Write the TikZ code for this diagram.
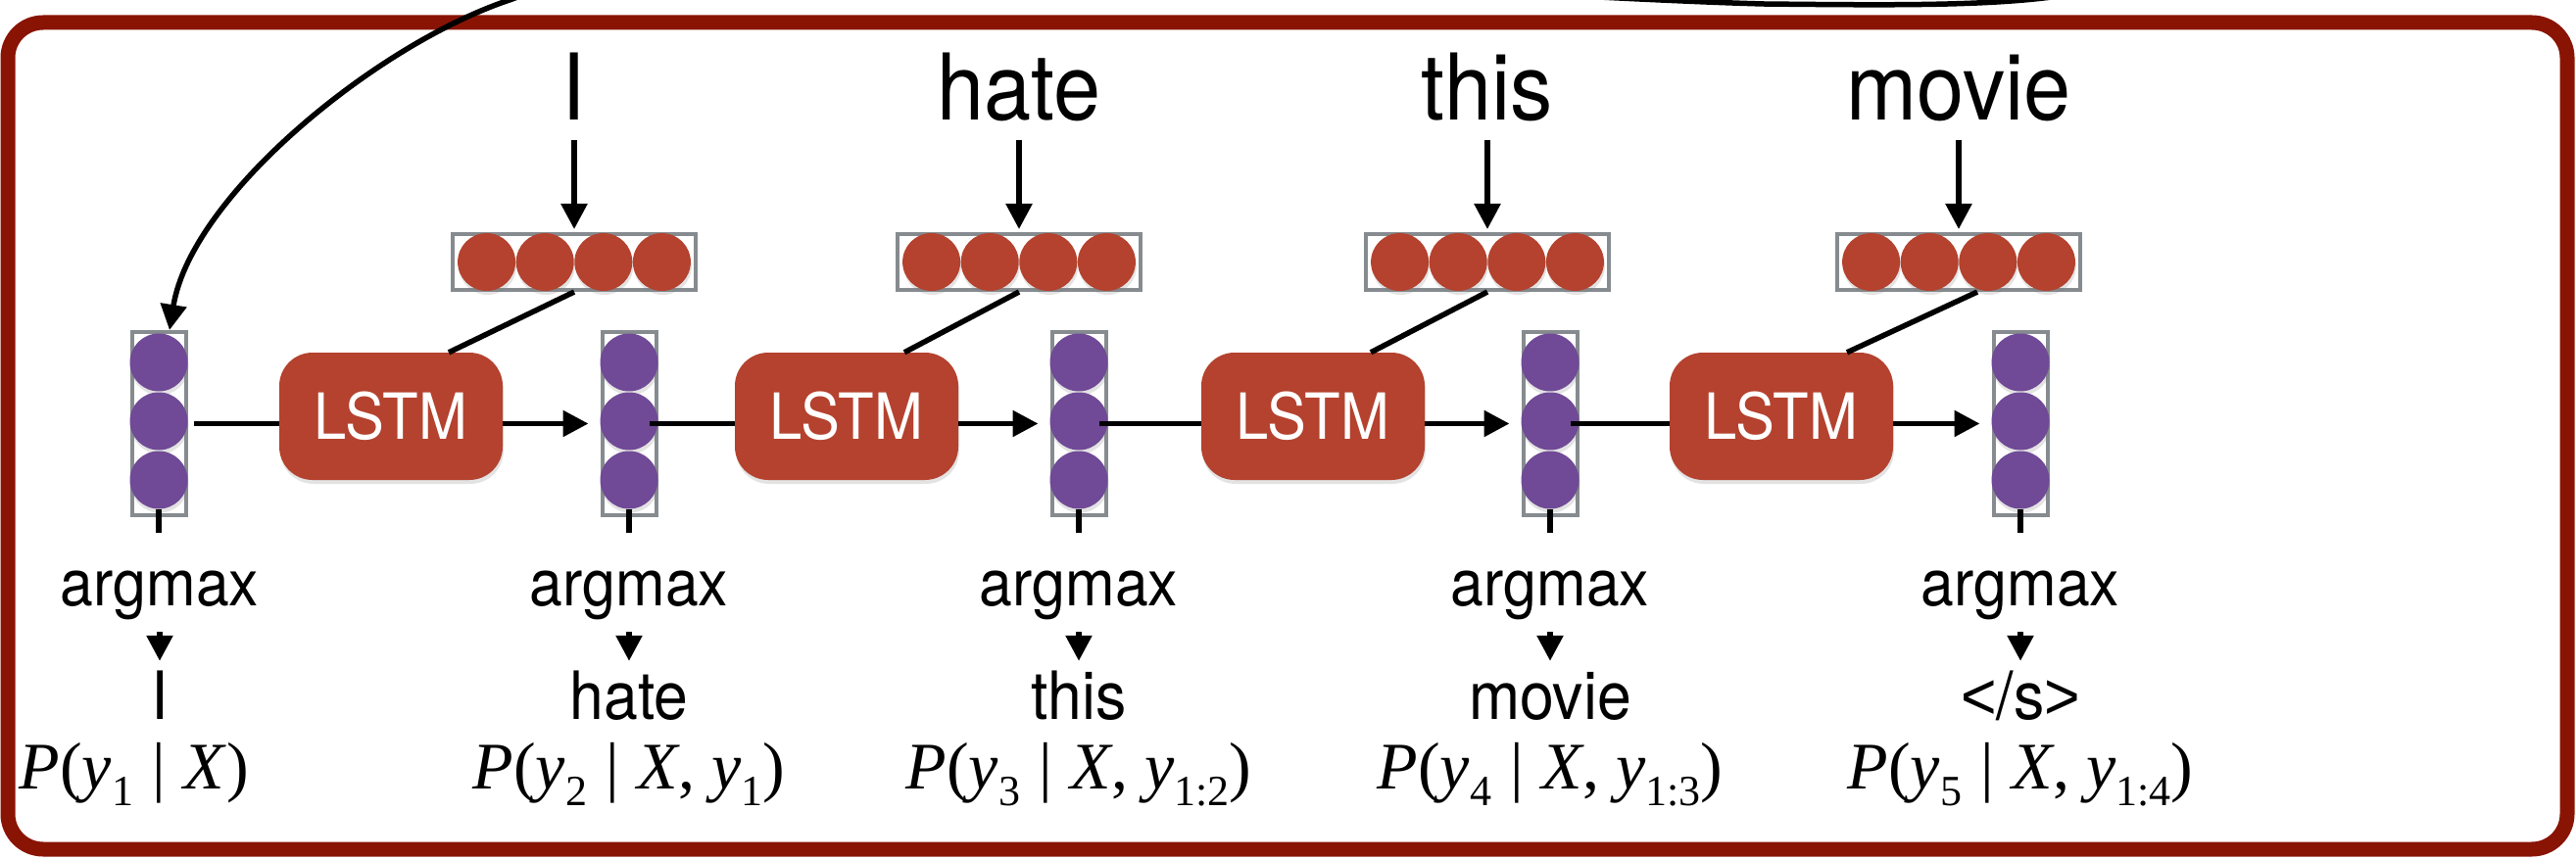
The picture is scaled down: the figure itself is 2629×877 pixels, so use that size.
\documentclass[tikz,border=0pt]{standalone}
\usepackage{fontspec}
\setmainfont[FakeStretch=0.92]{TeX Gyre Heros}
\newfontfamily\tms{Liberation Serif}
\newfontfamily\lsans[FakeStretch=0.92]{Liberation Sans}
\usetikzlibrary{arrows.meta,shadows}
\definecolor{bord}{RGB}{137,20,4}
\definecolor{lstmred}{RGB}{180,66,46}
\definecolor{embred}{RGB}{180,66,46}
\definecolor{vpurple}{RGB}{112,74,150}
\definecolor{vgray}{RGB}{134,139,143}
\newcommand{\sbx}[1]{\raisebox{-17pt}{\fontsize{44}{44}\selectfont #1}}
\newcommand{\Pcond}[2]{\textit{P}(\textit{y}\sbx{#1}\hspace{0.28em}|\hspace{0.28em}#2)}
\begin{document}
\begin{tikzpicture}[x=1pt,y=-1pt,
  arr/.style={line width=5.5pt,-{Triangle[length=26pt,width=26pt]}},
  ln/.style={line width=5.5pt},
  vbox/.style={draw=vgray,line width=4pt,fill=white,minimum width=55pt,minimum height=187pt,inner sep=0pt},
  ebox/.style={draw=vgray,line width=4pt,fill=white,minimum width=248pt,minimum height=57pt,inner sep=0pt},
  shd/.style={drop shadow={opacity=0.22,shadow xshift=1pt,shadow yshift=-4pt}},
  pdot/.style={circle,fill=vpurple,minimum size=59pt,inner sep=0pt,shd},
  rdot/.style={circle,fill=embred,minimum size=59pt,inner sep=0pt,shd},
  lstm/.style={rectangle,rounded corners=34pt,fill=lstmred,minimum width=228pt,minimum height=130pt,inner sep=0pt,text=white,font=\fontsize{65}{65}\selectfont,shd},
  topw/.style={anchor=base,inner sep=0pt,text depth=0pt,font=\fontsize{94}{94}\selectfont},
  amx/.style={anchor=base,inner sep=0pt,text depth=14pt,font=\fontsize{66}{66}\selectfont},
  outw/.style={anchor=base,inner sep=0pt,text height=50pt,text depth=0pt,font=\fontsize{68}{68}\selectfont},
  prob/.style={anchor=base,inner sep=0pt,font=\tms\fontsize{68}{68}\selectfont},
]
\useasboundingbox (0,0) rectangle (2629,877);
\fill[white] (0,0) rectangle (2629,877);

% frame
\draw[bord,line width=15pt,rounded corners=36pt] (8,23) rectangle (2620,867);

% hidden-state vectors
\foreach \i/\vx in {1/162,2/642,3/1101,4/1582,5/2062} {
  \node[vbox] (v\i) at (\vx,432.5) {};
  \foreach \j/\yy in {a/370,b/430,c/490} \node[pdot] (v\i\j) at (\vx,\yy) {};
}
% embeddings
\foreach \i/\ex in {1/586,2/1040,3/1518,4/1999} {
  \node[ebox] (e\i) at (\ex,267.5) {};
  \foreach \j/\dx in {a/-89.4,b/-29.8,c/29.8,d/89.4} \node[rdot] (e\i\j) at ({\ex+(\dx)},267.5) {};
}
% LSTM cells
\foreach \i/\lx in {1/399,2/864,3/1340,4/1818} \node[lstm] (L\i) at (\lx,425) {LSTM};

% input words
\node[topw] (t1) at (586,123) {I};
\node[topw] (t2) at (1040,123) {hate};
\node[topw] (t3) at (1518,123) {this};
\node[topw] (t4) at (1999,123) {movie};

% argmax labels
\foreach \i/\vx in {1/163,2/642,3/1101,4/1582,5/2062} \node[amx] (a\i) at (\vx,618) {argmax};

% output words
\node[outw] (w1) at (163,734) {I};
\node[outw] (w2) at (642,734) {hate};
\node[outw] (w3) at (1101,734) {this};
\node[outw] (w4) at (1582,734) {movie};
\node[outw] (w5) at (2062,734) {{\lsans\char"3C}/s{\lsans\char"3E}};

% probabilities
\node[prob] (p1) at (137,805) {\Pcond{1}{\textit{X}}};
\node[prob] (p2) at (642,805) {\Pcond{2}{\textit{X}, \textit{y}\sbx{1}}};
\node[prob] (p3) at (1101,805) {\Pcond{3}{\textit{X}, \textit{y}\sbx{1:2}}};
\node[prob] (p4) at (1582,805) {\Pcond{4}{\textit{X}, \textit{y}\sbx{1:3}}};
\node[prob] (p5) at (2062,805) {\Pcond{5}{\textit{X}, \textit{y}\sbx{1:4}}};

% connectors
\foreach \i in {1,...,4} \draw[arr,shorten <=20pt,shorten >=3pt] (t\i.south) -- (e\i.north);
\foreach \i in {1,2,3} \draw[ln] (e\i.south) -- ([xshift=59pt]L\i.north);
\draw[ln] ([xshift=19pt]e4.south) -- ([xshift=67pt]L4.north);
\draw[ln] ([xshift=6.5pt]v1.east) -- (v1.east -| L1.west);
\foreach \i in {2,3,4} \draw[ln] ([xshift=-8.5pt]v\i.east) -- (v\i.east -| L\i.west);
\foreach \i/\n in {1/2,2/3,3/4,4/5} \draw[arr,shorten >=12pt] (L\i.east |- v\n.west) -- (v\n.west);
\foreach \i in {1,...,5} {
  \draw[ln] ([yshift=8pt]v\i.south) -- ([yshift=-16pt]v\i.south);
  \draw[arr,shorten <=13pt,shorten >=9pt] (a\i.south) -- (w\i.north);
}

% feedback curve from the encoder (off-picture)
\begin{scope}
\clip (0,0) rectangle (2629,877);
\coordinate (enc) at (2200,-40);
\coordinate (top) at (1800,4);
\draw[arr] (enc) .. controls (2150,8) and (2000,6) .. (top)
  .. controls (1500,-4) and (700,-70) .. (520,0)
  .. controls (385,45) and (195,200) .. ([xshift=11pt]v1.north);
\end{scope}
\end{tikzpicture}
\end{document}
